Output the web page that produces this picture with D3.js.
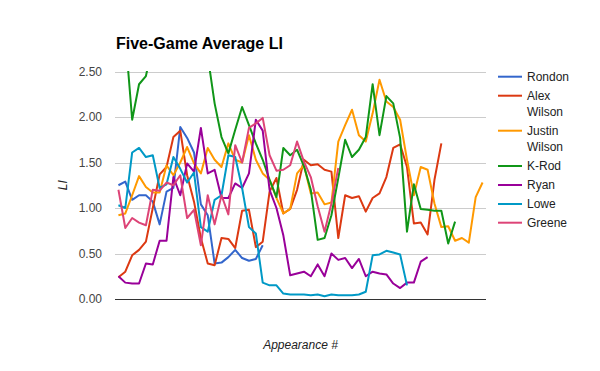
<!DOCTYPE html>
<html><head><meta charset="utf-8">
<script src="https://cdn.jsdelivr.net/npm/d3@7"></script>
<style>
body{margin:0;background:#fff;}
svg{display:block;font-family:"Liberation Sans",Arial,sans-serif;}
</style></head>
<body><svg id="c" width="600" height="371"></svg>
<script>
const categories = d3.range(1, 55);
const seriesNames = ["Rondon","Alex Wilson","Justin Wilson","K-Rod","Ryan","Lowe","Greene"];
const seriesColors = ["#3366cc","#dc3912","#ff9900","#109618","#990099","#0099c6","#dd4477"];
const rondon = [1.25,1.29,1.09,1.14,1.14,1.07,0.82,1.18,1.22,1.89,1.77,1.61,1.04,0.92,0.39,0.40,0.46,0.54,0.45,0.42,0.44,0.59];
const alexWilson = [0.24,0.30,0.48,0.54,0.63,1.00,1.37,1.45,1.78,1.85,1.36,1.07,0.67,0.39,0.37,0.67,0.66,0.56,0.97,0.98,0.57,0.63,1.18,1.33,0.94,0.99,1.20,1.53,1.47,1.48,1.42,1.40,0.67,1.14,1.11,1.13,0.96,1.11,1.16,1.34,1.66,1.70,1.45,0.83,0.84,0.71,1.31,1.71];
const justinWilson = [0.92,0.94,1.14,1.35,1.23,1.17,1.17,1.47,1.36,1.50,1.67,1.49,1.38,1.66,1.53,1.45,1.71,1.53,1.50,1.80,1.53,1.38,1.31,1.11,0.94,0.99,1.38,1.47,1.16,1.17,1.04,1.06,1.73,1.91,2.08,1.80,1.73,2.04,2.41,2.17,2.11,1.97,1.53,1.14,1.45,1.42,1.05,0.79,0.80,0.64,0.67,0.62,1.12,1.28];
const kRod = [null,2.9,1.97,2.36,2.45,2.8,3.0,3.1,3.2,3.1,3.0,2.9,2.85,2.67,2.15,1.78,1.60,1.86,2.11,1.91,1.71,1.53,1.31,1.12,1.66,1.58,1.64,1.46,1.20,0.65,0.67,0.92,1.33,1.75,1.56,1.64,1.78,2.36,1.80,2.23,2.15,1.77,0.74,1.26,0.99,0.98,0.97,0.97,0.61,0.85];
const ryan = [0.25,0.18,0.17,0.17,0.39,0.38,0.64,0.64,1.34,1.14,1.49,1.40,1.88,1.38,1.42,1.11,1.11,1.27,1.22,1.38,1.97,1.85,1.20,1.00,0.70,0.26,0.28,0.30,0.25,0.38,0.25,0.50,0.43,0.45,0.34,0.44,0.25,0.30,0.28,0.27,0.17,0.12,0.18,0.18,0.41,0.46];
const lowe = [1.03,1.00,1.61,1.66,1.56,1.58,1.22,1.26,1.56,1.43,1.28,1.39,0.79,0.74,1.09,1.14,1.58,1.56,1.22,0.79,0.72,0.18,0.15,0.15,0.06,0.05,0.05,0.05,0.04,0.05,0.03,0.05,0.04,0.04,0.04,0.05,0.08,0.48,0.49,0.53,0.51,0.49,0.15];
const greene = [1.20,0.78,0.89,0.84,0.81,1.20,1.19,1.28,1.25,1.36,0.89,0.98,0.59,1.14,0.82,1.14,0.93,1.69,1.50,1.88,1.93,1.99,1.58,1.41,1.42,1.47,1.73,1.51,1.34,1.02,0.74,1.05,1.44];
const yTicks = [0, 0.5, 1, 1.5, 2, 2.5];
const yTickLabels = ["0.00","0.50","1.00","1.50","2.00","2.50"];
const title = "Five-Game Average LI";
const xTitle = "Appearance #";
const yTitle = "LI";

const allSeries = [rondon, alexWilson, justinWilson, kRod, ryan, lowe, greene];
const svg = d3.select("#c");
const L = 115, R = 486, T = 71.5, B = 299;
const x = d3.scalePoint().domain(categories).range([L, R]).padding(0.5);
const y = d3.scaleLinear().domain([0, 2.5]).range([B, T]);

svg.append("text").attr("x", 116).attr("y", 49).attr("font-size", 16).attr("font-weight", "bold").attr("fill", "#000").text(title);

// gridlines
svg.append("g").selectAll("line").data(yTicks.filter(d => d > 0)).join("line")
  .attr("x1", L).attr("x2", R).attr("y1", d => Math.round(y(d)) + 0.5).attr("y2", d => Math.round(y(d)) + 0.5)
  .attr("stroke", "#cccccc").attr("stroke-width", 1);

// y axis labels
const yAxis = d3.axisLeft(y).tickValues(yTicks).tickFormat((d, i) => yTickLabels[i]).tickSize(0).tickPadding(13);
const gy = svg.append("g").attr("transform", `translate(${L},0)`).call(yAxis);
gy.select(".domain").remove();
gy.selectAll("text").attr("font-size", 12).attr("fill", "#444").attr("font-family", "Liberation Sans, Arial, sans-serif");

svg.append("defs").append("clipPath").attr("id", "clip").append("rect")
  .attr("x", L).attr("y", T - 0.5).attr("width", R - L).attr("height", B - T + 1);

const line = d3.line().defined(d => d.v != null).x(d => x(d.c)).y(d => y(d.v));
const gl = svg.append("g").attr("clip-path", "url(#clip)");
allSeries.forEach((vals, si) => {
  const pts = vals.map((v, i) => ({c: categories[i], v: v}));
  gl.append("path").datum(pts).attr("d", line).attr("fill", "none")
    .attr("stroke", seriesColors[si]).attr("stroke-width", 2).attr("stroke-linejoin", "round");
});

// baseline
svg.append("line").attr("x1", L).attr("x2", R).attr("y1", Math.round(y(0)) + 0.5).attr("y2", Math.round(y(0)) + 0.5)
  .attr("stroke", "#333").attr("stroke-width", 1);

// axis titles
svg.append("text").attr("x", (L + R) / 2).attr("y", 349).attr("text-anchor", "middle")
  .attr("font-size", 12).attr("font-style", "italic").attr("fill", "#222").text(xTitle);
svg.append("text").attr("transform", `translate(67,${(T + B) / 2}) rotate(-90)`).attr("text-anchor", "middle")
  .attr("font-size", 12).attr("font-style", "italic").attr("fill", "#222").text(yTitle);

// legend
const legendRows = [76.7, 95.7, 130.7, 166, 185, 204, 222.7];
const lg = svg.append("g");
seriesNames.forEach((name, i) => {
  const yy = legendRows[i];
  lg.append("line").attr("x1", 498).attr("x2", 522).attr("y1", yy).attr("y2", yy)
    .attr("stroke", seriesColors[i]).attr("stroke-width", 2);
  const words = name.split(" ");
  const t = lg.append("text").attr("x", 527).attr("y", yy + 4.3).attr("font-size", 12).attr("fill", "#222");
  words.forEach((w, j) => {
    t.append("tspan").attr("x", 527).attr("dy", j === 0 ? 0 : 16).text(w);
  });
});
</script></body></html>
